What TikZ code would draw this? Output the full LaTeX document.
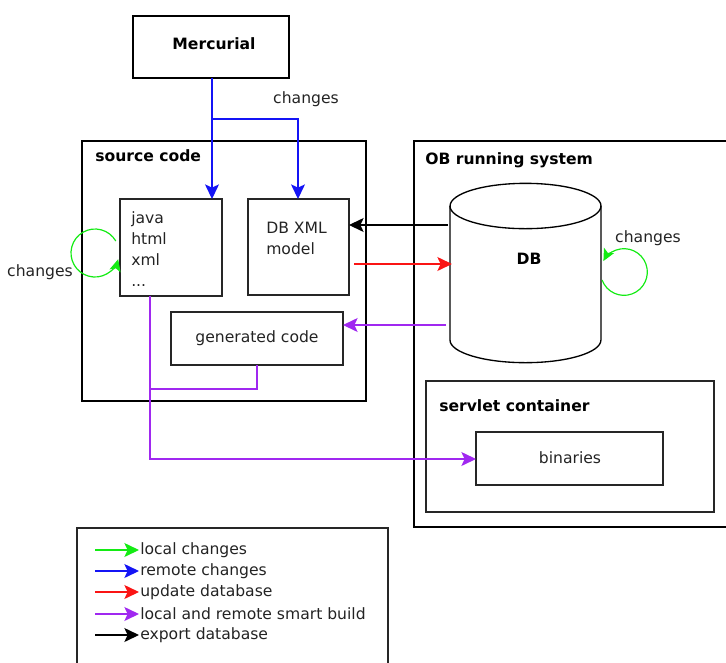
\documentclass[tikz,border=0pt]{standalone}
\usepackage{fontspec}
\setmainfont{DejaVu Sans}
\usetikzlibrary{arrows.meta,fit}
\definecolor{gr}{RGB}{20,235,20}
\definecolor{bl}{RGB}{20,20,245}
\definecolor{rd}{RGB}{250,20,20}
\definecolor{pu}{RGB}{160,40,240}
\definecolor{tx}{RGB}{35,35,35}
\tikzset{
  thinbox/.style={draw=black!85, line width=1pt, inner sep=0pt},
  thickbox/.style={draw=black, line width=2.2pt, inner sep=0pt},
  medbox/.style={draw=black, line width=1.5pt, inner sep=0pt},
  lbl/.style={inner sep=0pt, text=tx, font=\fontsize{11.7}{15.75}\selectfont},
  blbl/.style={inner sep=0pt, text=black, font=\fontsize{11.7}{15.75}\selectfont\bfseries},
  conn/.style={line width=0.9pt, -{Stealth[length=11pt 0 0,width=10.5pt 0 0,inset=2.5pt 0]}},
  loopc/.style={gr, line width=0.9pt, -{Stealth[length=9pt 0 0,width=8.5pt 0 0,inset=2pt 0]}},
}
\begin{document}
\begin{tikzpicture}[x=0.75pt,y=-0.75pt]
\useasboundingbox (0,0) rectangle (726,662);
% boxes
\node[medbox, fit={(133,16) (289,78)}] (merc) {};
\node[blbl] (merctxt) at (214,44) {Mercurial};
\node[thickbox, fit={(82,141) (366,401)}] (src) {};
\node[blbl, anchor=west] (srctxt) at (95,156) {source code};
\node[thickbox, fit={(414,141) (740,527)}] (ob) {};
\node[blbl, anchor=west] (obtxt) at (425,160) {OB running system};
\node[thinbox, fit={(120,199) (222,296)}] (java) {};
\node[lbl, anchor=north west, align=left] (javatxt) at (131,211) {java\\html\\xml\\...};
\node[thinbox, fit={(248,199) (349,295)}] (dbxml) {};
\node[lbl, anchor=north west, align=left] (dbxmltxt) at (266,222) {DB XML\\model};
\node[thinbox, fit={(171,312) (343,365)}] (gen) {};
\node[lbl] (gentxt) at (257,338) {generated code};
\node[thinbox, fit={(426,381) (714,512)}] (servlet) {};
\node[blbl, anchor=west] (servlettxt) at (439,406) {servlet container};
\node[thinbox, fit={(476,432) (663,485)}] (bin) {};
\node[lbl] (bintxt) at (570,458) {binaries};
% DB cylinder
\draw[line width=1pt, fill=white] (450,206) -- (450,340)
  arc[start angle=180, end angle=360, x radius=56.6pt, y radius=17pt]
  -- (601,206) arc[start angle=0, end angle=180, x radius=56.6pt, y radius=17pt] -- cycle;
\draw[line width=1pt] (450,206) arc[start angle=180, end angle=360, x radius=56.6pt, y radius=17pt];
\node[blbl] (db) at (529,259) {DB};
\coordinate (dbL1) at (448,225);
\coordinate (dbL2) at (452,264);
\coordinate (dbL3) at (446,325);
% Mercurial changes
\coordinate (m1) at (212,78);
\coordinate (mb) at (212,119);
\draw[bl, conn] (m1) -- (212,199);
\draw[bl, conn] (mb) -- (298,119) -- (298,199);
\node[lbl] (chg1) at (306,99) {changes};
% local changes loops
\draw[loopc] (95,253) ++(30:18pt) arc[start angle=30, end angle=345, radius=18pt];
\node[lbl] (chg2) at (40,272) {changes};
\draw[loopc] (624,272) ++(200:17.5pt) arc[start angle=200, end angle=512, radius=17.5pt];
\node[lbl] (chg3) at (648,238) {changes};
% db arrows
\draw[black, conn] (dbL1) -- (349,225);
\draw[rd, conn] (354,264) -- (dbL2);
\draw[pu, conn] (dbL3) -- (343,325);
% smart build
\coordinate (jb) at (150,296);
\coordinate (gb) at (257,365);
\draw[pu, conn] (jb) -- (150,459) -- (476,459);
\draw[pu, line width=0.9pt] (gb) -- (257,389) -- (150,389);
% legend
\draw[line width=1pt, black!85] (77,680) -- (77,528) -- (388,528) -- (388,680);
\foreach \c/\y/\t in {gr/550/local changes, bl/571/remote changes, rd/592/update database, pu/614/local and remote smart build, black/635/export database}{
  \draw[\c, conn] (95,\y) -- (139,\y);
  \node[lbl, anchor=west] (leg\y) at (140,\y) {\t};
}
\end{tikzpicture}
\end{document}
